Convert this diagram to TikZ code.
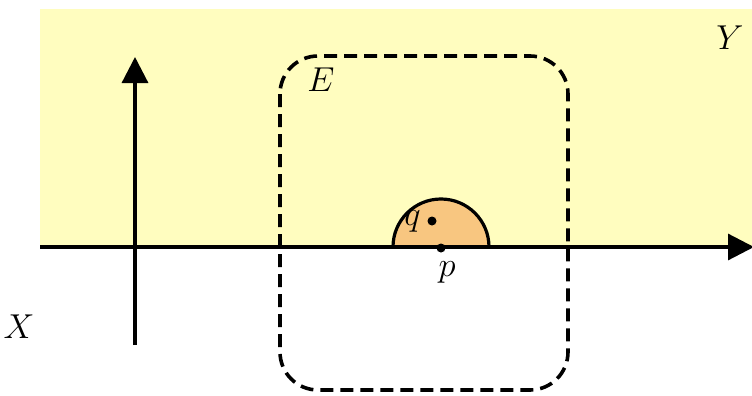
\documentclass[tikz,border=0pt]{standalone}
\usepackage{amsmath, amssymb}
\usepackage{tikz}
\usetikzlibrary{arrows.meta, positioning}

\definecolor{ylw}{RGB}{255,253,191}
\definecolor{org}{RGB}{248,198,128}

\begin{document}
\begin{tikzpicture}[x=0.5pt, y=-0.5pt, >={Triangle[length=13pt, width=13pt]},
    axis/.style={line width=1.6pt},
    lbl/.style={font=\fontsize{17}{20}\selectfont, inner sep=0pt},
    pt/.style={circle, fill=black, inner sep=0pt, minimum size=4.5pt}]
				\useasboundingbox (0,0) rectangle (752,396);
				\fill [ylw] (40,9) rectangle (752,247);
				
				% half disk around p
				\fill [org] (393,247) arc[start angle=180, end angle=360, radius=48] -- cycle;
				\draw [line width=1.6pt] (393,247) arc[start angle=180, end angle=360, radius=48];
				
				\coordinate (xl) at (40,247);
				\coordinate (xr) at (754,247);
				\coordinate (yb) at (135,345);
				\coordinate (yt) at (135,57);
				\draw [axis, ->] (xl) -- (xr);
				\draw [axis, ->] (yb) -- (yt);
				
				\draw [line width=1.8pt, dash pattern=on 6.5pt off 3.5pt, rounded corners=19pt]
				  (280,56) rectangle (568,390);
				
				\node [pt] (p) at (441,248) {};
				\node [pt] (q) at (432,221) {};
				\node [lbl, below=4pt of p, xshift=3pt] (plbl) {$p$};
				\node [lbl, left=3pt of q] (qlbl) {$q$};
				\node [lbl] (E) at (321,80) {$E$};
				\node [lbl] (Y) at (730,38) {$Y$};
				\node [lbl] (X) at (19,327) {$X$};
			\end{tikzpicture}
\end{document}
